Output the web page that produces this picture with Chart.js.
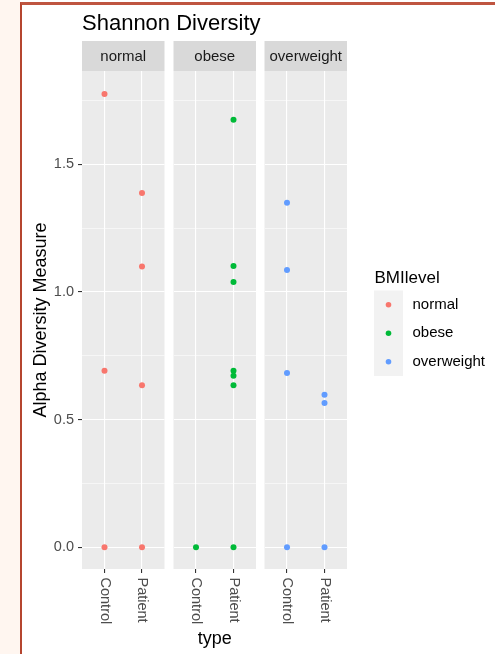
<!DOCTYPE html>
<html>
<head>
<meta charset="utf-8">
<script src="https://cdn.jsdelivr.net/npm/chart.js@4/dist/chart.umd.min.js"></script>
<style>
  html, body { margin: 0; padding: 0; background: #ffffff; }
  #wrap { position: relative; width: 495px; height: 654px; overflow: hidden; }
  #side { position: absolute; left: 0; top: 0; width: 20px; height: 654px; background: #FFF6F0; }
  #frame { position: absolute; left: 20px; top: 2px; width: 475px; height: 652px; box-sizing: border-box;
           border-left: 2px solid #B5452F; border-top: 3px solid #BF5540; }
  canvas { position: absolute; left: 0; top: 0; }
</style>
</head>
<body>
<div id="wrap">
  <div id="side"></div>
  <div id="frame"></div>
  <canvas id="c1" width="495" height="654"></canvas>
  <canvas id="c2" width="495" height="654"></canvas>
  <canvas id="c3" width="495" height="654"></canvas>
</div>
<script>
// ---------------- data ----------------
const chartTitle = 'Shannon Diversity';
const categories = ['Control', 'Patient'];
const groups = ['normal', 'obese', 'overweight'];
const groupColors = ['#F8766D', '#00BA38', '#619CFF'];
const yMajorTicks = [0.0, 0.5, 1.0, 1.5];
const yMinorTicks = [0.25, 0.75, 1.25, 1.75];
const yTitle = 'Alpha Diversity Measure';
const xTitle = 'type';
const legendTitle = 'BMIlevel';

const normalControl = [1.776, 0.692, 0];
const normalPatient = [1.388, 1.100, 0.635, 0];
const obeseControl = [0];
const obesePatient = [1.675, 1.102, 1.039, 0.692, 0.672, 0.635, 0];
const overweightControl = [1.350, 1.086, 0.683, 0];
const overweightPatient = [0.598, 0.565, 0];

const groupData = [
  [normalControl, normalPatient],
  [obeseControl, obesePatient],
  [overweightControl, overweightPatient]
];

// ---------------- style ----------------
const FONT = "'Liberation Sans', Arial, sans-serif";
Chart.defaults.font.family = FONT;
const W = 495, H = 654;
const panels = [
  { left: 82, right: 164.5 },
  { left: 173.5, right: 256 },
  { left: 264.5, right: 347 }
];
const panelTop = 71, panelBottom = 569, stripH = 30;
const yMin = -0.085, yMax = 1.866;

function toPoints(g) {
  const pts = [];
  groupData[g].forEach((vals, ci) => vals.forEach(v => pts.push({ x: ci + 1, y: v })));
  return pts;
}
const allYTicks = yMajorTicks.concat(yMinorTicks).sort((a, b) => a - b);
const isMajor = v => yMajorTicks.some(m => Math.abs(m - v) < 1e-9);

const panelPlugin = {
  id: 'panel',
  beforeDraw(chart, args, opts) {
    const { ctx, chartArea: a } = chart;
    ctx.save();
    ctx.fillStyle = '#EBEBEB';
    ctx.fillRect(a.left, a.top, a.right - a.left, a.bottom - a.top);
    ctx.fillStyle = '#D9D9D9';
    ctx.fillRect(a.left, a.top - stripH, a.right - a.left, stripH);
    ctx.fillStyle = '#1A1A1A';
    ctx.font = '15px ' + FONT;
    ctx.textAlign = 'center';
    ctx.textBaseline = 'middle';
    ctx.fillText(opts.strip, (a.left + a.right) / 2, a.top - stripH / 2 + 0.5);
    ctx.restore();
  },
  afterDraw(chart) {
    const { ctx, chartArea: a } = chart;
    const xs = chart.scales.x;
    ctx.save();
    ctx.fillStyle = '#4D4D4D';
    ctx.font = '14.5px ' + FONT;
    ctx.textAlign = 'left';
    ctx.textBaseline = 'middle';
    xs.ticks.forEach(t => {
      const px = xs.getPixelForValue(t.value);
      ctx.save();
      ctx.translate(px, a.bottom + 8.5);
      ctx.rotate(Math.PI / 2);
      ctx.fillText(categories[t.value - 1], 0, 0);
      ctx.restore();
    });
    ctx.restore();
  }
};

const titlePlugin = {
  id: 'mainTitle',
  afterDraw(chart) {
    const ctx = chart.ctx;
    ctx.save();
    ctx.fillStyle = '#000000';
    ctx.font = '22px ' + FONT;
    ctx.textAlign = 'left';
    ctx.textBaseline = 'alphabetic';
    ctx.fillText(chartTitle, 82, 30);
    ctx.restore();
  }
};

const legendPlugin = {
  id: 'bmiLegend',
  afterDraw(chart) {
    const ctx = chart.ctx;
    ctx.save();
    ctx.fillStyle = '#000000';
    ctx.font = '17px ' + FONT;
    ctx.textAlign = 'left';
    ctx.textBaseline = 'alphabetic';
    ctx.fillText(legendTitle, 374.5, 282.5);
    const keyTop = 290.5, keyH = 28.5, keyL = 374, keyW = 29;
    ctx.fillStyle = '#F2F2F2';
    ctx.fillRect(keyL, keyTop, keyW, keyH * groups.length);
    ctx.font = '15px ' + FONT;
    ctx.textBaseline = 'middle';
    groups.forEach((g, i) => {
      const cy = keyTop + keyH * i + keyH / 2;
      ctx.fillStyle = groupColors[i];
      ctx.beginPath();
      ctx.arc(keyL + keyW / 2, cy, 2.8, 0, Math.PI * 2);
      ctx.fill();
      ctx.fillStyle = '#000000';
      ctx.fillText(g, 412.5, cy);
    });
    ctx.restore();
  }
};

function makeChart(id, g) {
  const p = panels[g];
  const first = g === 0;
  const yAxisW = first ? p.left - 22 : 0;
  const plugins = [panelPlugin];
  if (first) plugins.push(titlePlugin);
  if (g === 2) plugins.push(legendPlugin);
  return new Chart(document.getElementById(id), {
    type: 'scatter',
    data: {
      datasets: [{
        label: groups[g],
        data: toPoints(g),
        backgroundColor: groupColors[g],
        borderWidth: 0,
        pointRadius: 3,
        pointHoverRadius: 3
      }]
    },
    options: {
      responsive: false,
      animation: false,
      devicePixelRatio: 1,
      events: [],
      layout: {
        padding: { left: first ? 22 : p.left, right: W - p.right, top: panelTop, bottom: 0 }
      },
      plugins: {
        legend: { display: false },
        tooltip: { enabled: false },
        panel: { strip: groups[g] }
      },
      scales: {
        x: {
          type: 'linear',
          min: 0.4, max: 2.6,
          afterBuildTicks: s => { s.ticks = categories.map((c, i) => ({ value: i + 1 })); },
          afterFit: s => { s.height = H - panelBottom; },
          border: { display: false },
          grid: { color: '#FFFFFF', lineWidth: 1.1, tickColor: '#333333', tickLength: 4, tickWidth: 1.1 },
          ticks: { display: false },
          title: {
            display: g === 1, text: xTitle, color: '#000000',
            font: { size: 18, family: FONT }, padding: { top: 0, bottom: 4 }
          }
        },
        y: {
          type: 'linear',
          min: yMin, max: yMax,
          afterBuildTicks: s => { s.ticks = allYTicks.map(v => ({ value: v })); },
          afterFit: s => { s.width = yAxisW; },
          border: { display: false },
          grid: {
            color: '#FFFFFF',
            lineWidth: c => (c.tick && isMajor(c.tick.value)) ? 1.1 : 0.55,
            drawTicks: first,
            tickLength: 4,
            tickWidth: 1.1,
            tickColor: c => (c.tick && isMajor(c.tick.value)) ? '#333333' : 'rgba(0,0,0,0)'
          },
          ticks: {
            display: first,
            padding: 4,
            color: '#4D4D4D',
            font: { size: 14.5, family: FONT },
            callback: v => isMajor(v) ? v.toFixed(1) : ''
          },
          title: {
            display: first, text: yTitle, color: '#000000',
            font: { size: 18, family: FONT }, padding: { top: 8, bottom: 0 }
          }
        }
      }
    },
    plugins: plugins
  });
}

makeChart('c1', 0);
makeChart('c2', 1);
makeChart('c3', 2);
</script>
</body>
</html>
